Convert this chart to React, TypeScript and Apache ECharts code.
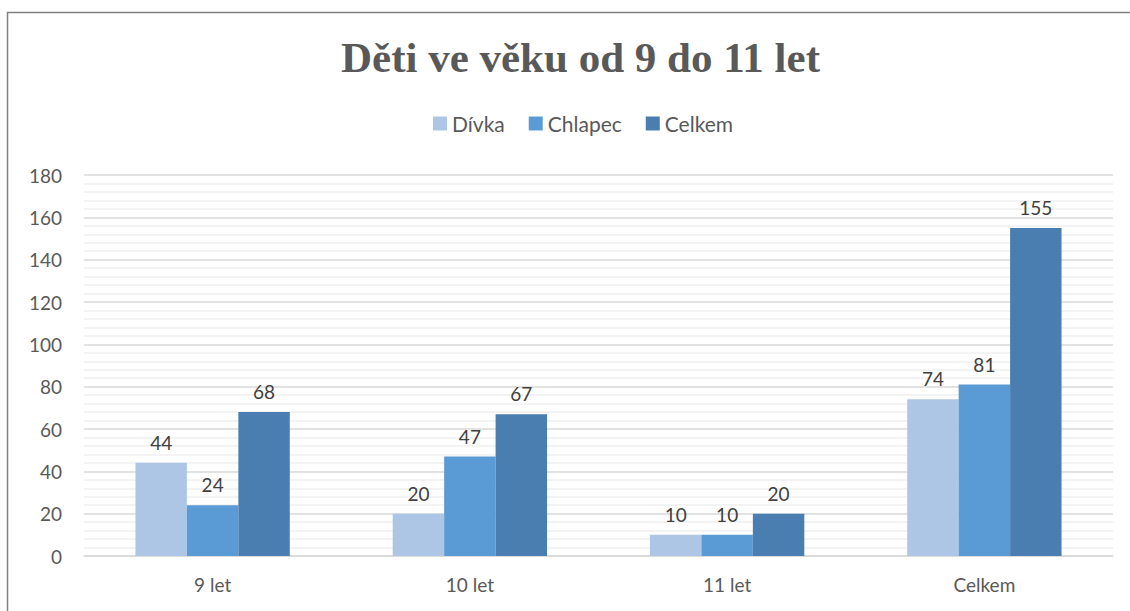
import React, { useEffect, useRef } from "react";
import * as echarts from "echarts";

const categories = ["9 let", "10 let", "11 let", "Celkem"];
const divka = [44, 20, 10, 74];
const chlapec = [24, 47, 10, 81];
const celkem = [68, 67, 20, 155];
const seriesNames = ["Dívka", "Chlapec", "Celkem"];
const colors = ["#ADC6E6", "#5B9BD5", "#4A7EB0"];

export default function App() {
  const ref = useRef<HTMLDivElement>(null);
  useEffect(() => {
    const chart = echarts.init(ref.current!, null, { renderer: "svg" });
    const font = "Lato, 'Open Sans', sans-serif";
    const mk = (name: string, data: number[], color: string) => ({
      name,
      type: "bar",
      data,
      barGap: "0%",
      barCategoryGap: "40%",
      itemStyle: { color },
      label: {
        show: true,
        position: "top",
        distance: 11,
        color: "#404040",
        fontSize: 19,
        fontFamily: font,
      },
    });
    chart.setOption({
      animation: false,
      backgroundColor: "#ffffff",
      color: colors,
      title: {
        text: "Děti ve věku od 9 do 11 let",
        left: 336,
        top: 31,
        textStyle: {
          fontFamily: "'Liberation Serif', 'DejaVu Serif', serif",
          fontWeight: "bold",
          fontSize: 43,
          color: "#595959",
        },
      },
      legend: {
        top: 108,
        left: 428,
        itemWidth: 14,
        itemHeight: 14,
        itemGap: 24,
        itemStyle: { borderWidth: 0 },
        icon: "rect",
        textStyle: { fontFamily: font, fontSize: 21, color: "#595959" },
        data: seriesNames,
      },
      grid: { left: 84, right: 17, top: 175, bottom: 55, containLabel: false },
      xAxis: {
        type: "category",
        data: categories,
        axisTick: { show: false },
        axisLine: { lineStyle: { color: "#d9d9d9", width: 1.5 } },
        axisLabel: { fontFamily: font, fontSize: 19, color: "#595959", margin: 19 },
      },
      yAxis: {
        type: "value",
        min: 0,
        max: 180,
        interval: 20,
        axisLine: { show: false },
        axisTick: { show: false },
        axisLabel: { fontFamily: font, fontSize: 19, color: "#595959", margin: 22 },
        splitLine: { lineStyle: { color: "#d9d9d9", width: 1.5 } },
        minorTick: { show: false, splitNumber: 5 },
        minorSplitLine: { show: true, lineStyle: { color: "#efefef", width: 1.5 } },
      },
      graphic: [
        {
          type: "rect",
          shape: { x: 7.5, y: 12.5, width: 1200, height: 700 },
          style: { fill: "none", stroke: "#808080", lineWidth: 1.5 },
          silent: true,
        },
      ],
      series: [
        mk(seriesNames[0], divka, colors[0]),
        mk(seriesNames[1], chlapec, colors[1]),
        mk(seriesNames[2], celkem, colors[2]),
      ],
    });
    return () => chart.dispose();
  }, []);
  return (
    <div
      ref={ref}
      style={{ position: "fixed", left: 0, top: 0, width: 1130, height: 611 }}
    />
  );
}
